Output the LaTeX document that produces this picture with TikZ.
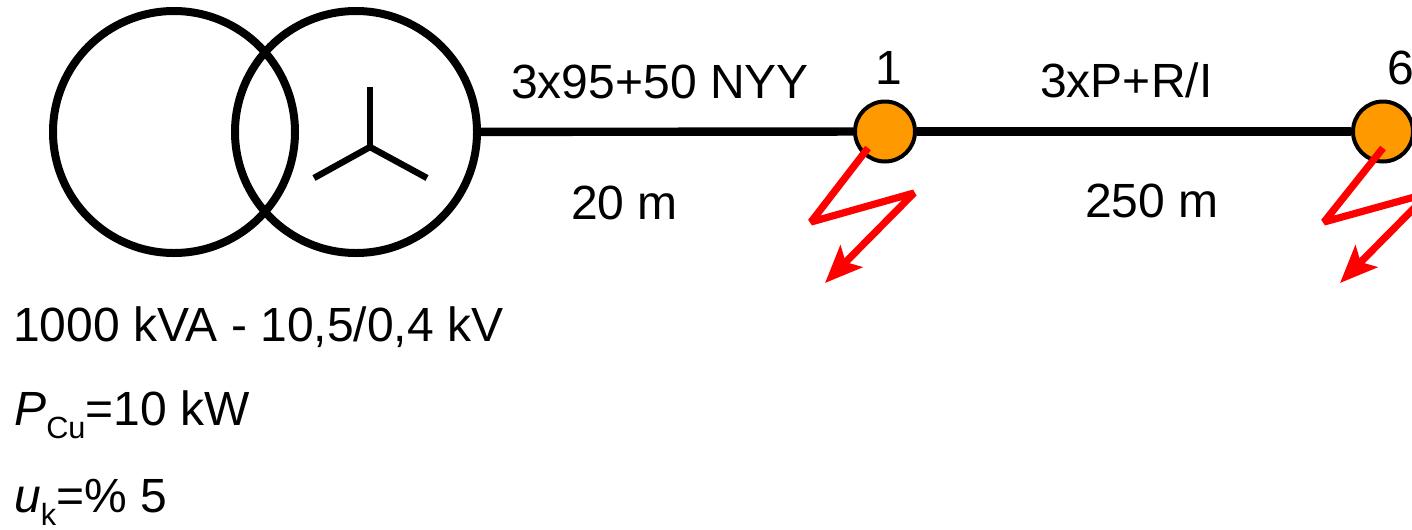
\documentclass[tikz,border=0pt]{standalone}
\usepackage{fontspec}
\setmainfont{Liberation Sans}
\usetikzlibrary{arrows.meta}
\newcommand{\lowsub}[1]{\raisebox{-0.29em}{\fontsize{23}{23}\selectfont #1}}
\tikzset{every picture/.style = {x=0.75pt, y=-0.75pt}}
\tikzset{winding/.style = {draw, shape=circle, line width=6pt, minimum size=181.5pt, inner sep=0}}
\tikzset{bus/.style = {draw, fill=busorange, shape=circle, line width=3pt, minimum size=45pt, inner sep=0}}
\tikzset{wire/.style = {line width=6.3pt}}
\tikzset{star/.style = {line width=4.8pt}}
\tikzset{fault/.style = {red, line width=5.4pt, line join=bevel, -{Stealth[length=28pt, width=23pt, inset=6pt]}}}
\tikzset{txt/.style = {anchor=base west, inner sep=0, font=\fontsize{36}{36}\selectfont}}
\definecolor{busorange}{HTML}{FF9900}

\begin{document}
\begin{tikzpicture}
  \useasboundingbox (0, 0) rectangle (1412, 529);
  \clip (0, 0) rectangle (1412, 529);
  \node[winding] (prim) at (174, 132) {};
  \node[winding] (sec) at (356, 132) {};
  \node[bus] (busa) at (885, 131.5) {};
  \node[bus] (busb) at (1383, 131.5) {};
  \draw[wire] (sec) -- (busa);
  \draw[wire] (busa) -- (busb);
  % star of the secondary
  \coordinate (hub) at (370, 147);
  \coordinate (up) at (370, 87);
  \coordinate (lft) at (314, 178);
  \coordinate (rgt) at (427, 178);
  \draw[star] (hub) -- (up);
  \draw[star] (hub) -- (lft);
  \draw[star] (hub) -- (rgt);
  % faults
  \coordinate (fa0) at (868, 148);
  \coordinate (fa1) at (811, 222);
  \coordinate (fa2) at (914, 193);
  \coordinate (fa3) at (825, 283);
  \draw[fault] (fa0) -- (fa1) -- (fa2) -- (fa3);
  \coordinate (fb0) at (1383, 148);
  \coordinate (fb1) at (1324, 222);
  \coordinate (fb2) at (1429, 193);
  \coordinate (fb3) at (1340, 283);
  \draw[fault] (fb0) -- (fb1) -- (fb2) -- (fb3);
  % labels
  \node[txt] (numa) at (875, 84) {1};
  \node[txt] (numb) at (1387, 84) {6};
  \node[txt] (cablea) at (511, 98) {3x95+50 NYY};
  \node[txt] (lena) at (571, 219) {20 m};
  \node[txt] (cableb) at (1040, 97) {3xP+R/I};
  \node[txt] (lenb) at (1085, 217) {250 m};
  \node[txt] (rating) at (13, 341) {1000 kVA - 10,5/0,4 kV};
  \node[txt] (pcu) at (14, 425) {\textit{P}\lowsub{Cu}=10 kW};
  \node[txt] (uk) at (14, 512) {\textit{u}\lowsub{k}=\% 5};
\end{tikzpicture}
\end{document}
